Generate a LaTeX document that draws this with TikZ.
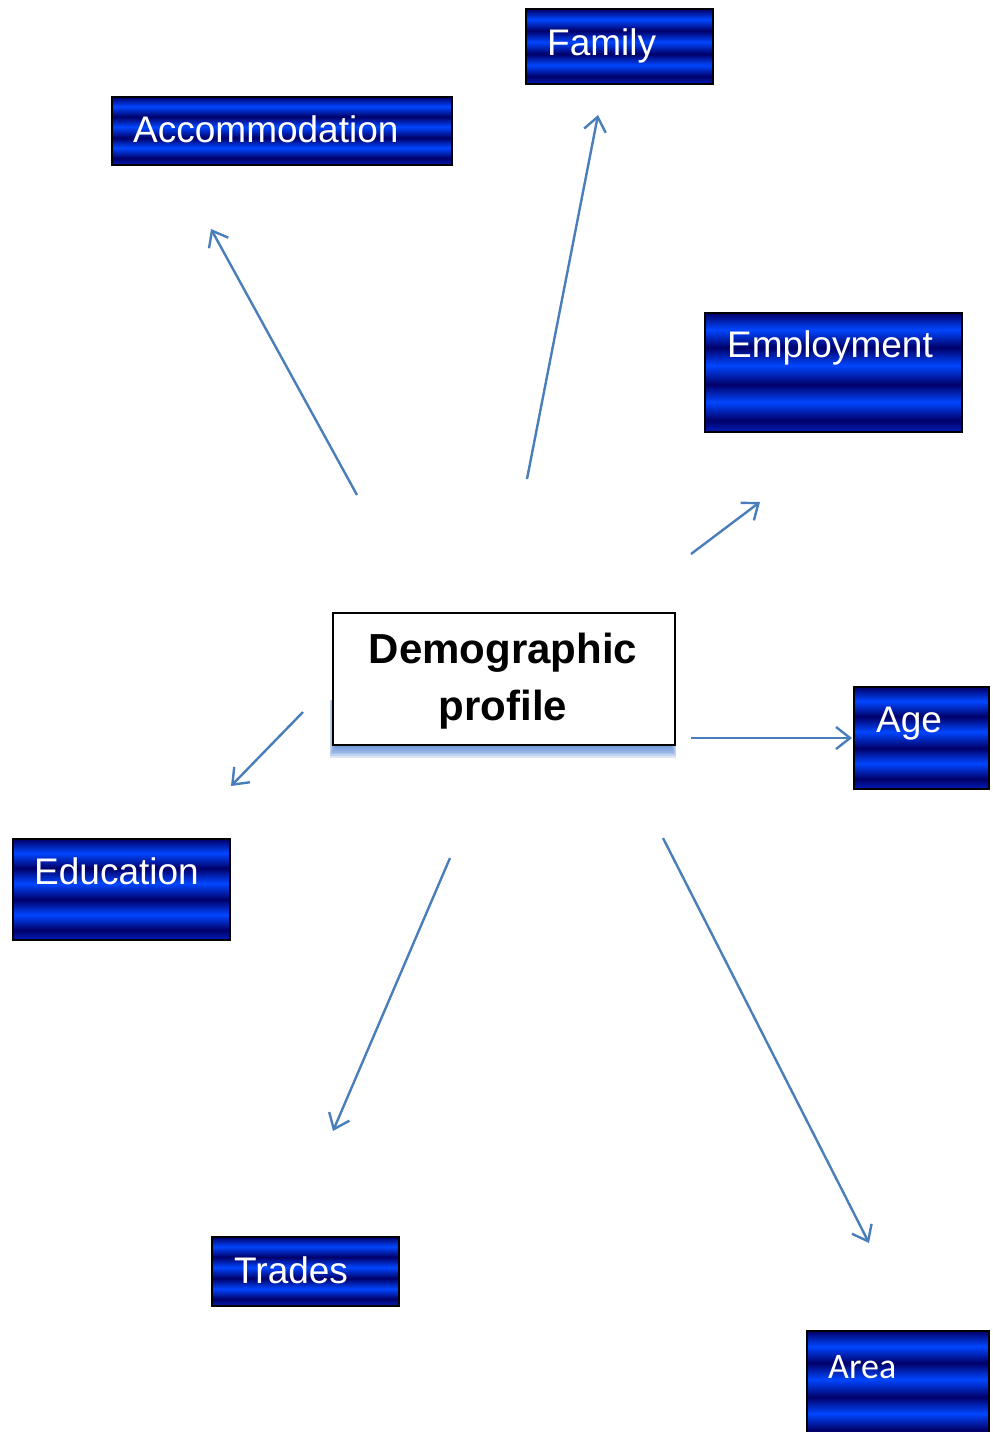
\documentclass[tikz,border=0pt]{standalone}
\usepackage{fontspec}
\setmainfont{Liberation Sans}
\newfontfamily\calfont{Carlito}
\usetikzlibrary{arrows.meta,calc}
\definecolor{bdark}{RGB}{0,0,105}
\definecolor{bbright}{RGB}{0,70,255}
\definecolor{bmid}{RGB}{0,30,185}
\definecolor{arrblue}{RGB}{74,126,187}
\definecolor{shblue}{RGB}{80,130,210}
\pgfdeclareverticalshading{bars}{100bp}{color(0bp)=(bmid); color(25bp)=(bmid); color(30bp)=(bdark); color(37.5bp)=(bbright); color(45bp)=(bdark); color(53bp)=(bbright); color(60.5bp)=(bdark); color(68bp)=(bbright); color(75bp)=(bdark); color(100bp)=(bdark)}
\tikzset{
  bluebox/.style={draw=black, line width=2pt, shading=bars, rectangle, inner sep=0pt, anchor=north west},
  lbl/.style={text=white, font=\fontsize{37}{40}\selectfont, inner sep=0pt, anchor=base west},
  conn/.style={draw=arrblue, line width=2.4pt, -{Straight Barb[length=14pt,width=22pt]}},
}
\begin{document}
\begin{tikzpicture}[x=1pt,y=-1pt]
\useasboundingbox (0,0) rectangle (993,1432);
% blue boxes
\node[bluebox, minimum width=187, minimum height=75] (fam) at (525,8) {};
\node[lbl] (famt) at (547,55) {Family};
\node[bluebox, minimum width=340, minimum height=68] (acc) at (111,96) {};
\node[lbl] (acct) at (133,142) {Accommodation};
\node[bluebox, minimum width=257, minimum height=119] (emp) at (704,312) {};
\node[lbl] (empt) at (727,357) {Employment};
\node[bluebox, minimum width=135, minimum height=102] (age) at (853,686) {};
\node[lbl] (aget) at (876,732) {Age};
\node[bluebox, minimum width=217, minimum height=101] (edu) at (12,838) {};
\node[lbl] (edut) at (34,884) {Education};
\node[bluebox, minimum width=187, minimum height=69] (tra) at (211,1236) {};
\node[lbl] (trat) at (234,1283) {Trades};
\node[bluebox, minimum width=182, minimum height=110] (are) at (806,1330) {};
\node[lbl, font=\calfont\fontsize{36}{40}\selectfont] (aret) at (828,1378) {Area};
% shadow of centre box
\foreach \i in {1,...,8}{
  \fill[shblue, opacity=0.2] (336-0.8*\i,700) rectangle (670+0.8*\i,744+1.7*\i);
}
\node[draw=black, fill=white, line width=2pt, minimum width=342, minimum height=132, anchor=north west, inner sep=0pt] (dem) at (332,612) {};
\node[font=\bfseries\fontsize{42}{57}\selectfont, align=center, anchor=base, inner sep=0pt] (demt) at (503,720) {Demographic\\profile};
% connectors
\coordinate (s1) at (357,495); \coordinate (e1) at (211,229);
\coordinate (s2) at (527,479); \coordinate (e2) at (598,115);
\coordinate (s3) at (691,554); \coordinate (e3) at (760,502);
\coordinate (s4) at (691,738); \coordinate (e4) at (852,738);
\coordinate (s5) at (303,712); \coordinate (e5) at (231,786);
\coordinate (s6) at (450,858); \coordinate (e6) at (333,1131);
\coordinate (s7) at (663,838); \coordinate (e7) at (869,1243);
\foreach \k in {1,...,7}{ \draw[conn] (s\k) -- (e\k); }
\end{tikzpicture}
\end{document}
